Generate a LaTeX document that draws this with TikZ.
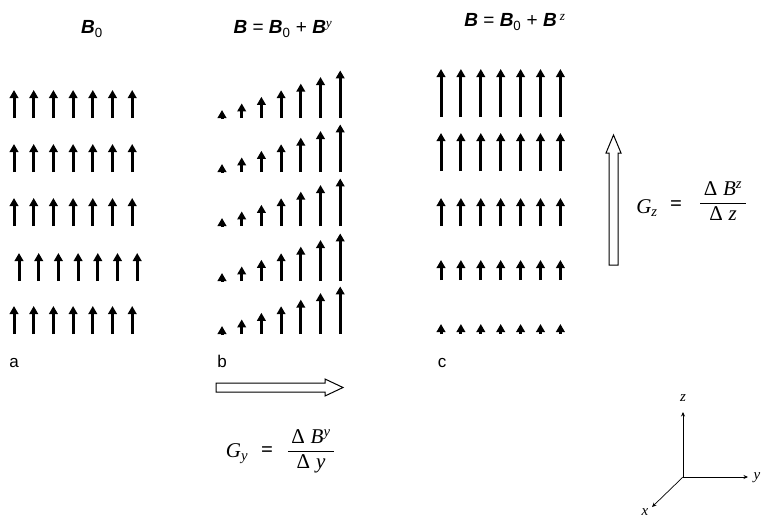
\documentclass[tikz,border=0pt]{standalone}
\usepackage{fontspec}
\setmainfont{Liberation Serif}
\setsansfont{Liberation Sans}
\usetikzlibrary{positioning}
\usetikzlibrary{arrows.meta}

\newcommand{\Bv}{{\bfseries\itshape B}}

\tikzset{
  field/.style={line width=3pt, -{Triangle[width=8.5pt,length=8pt]}},
  hollow/.style={draw, line width=1pt, fill=white},
  axis/.style={line width=0.7pt, -{Stealth[length=4.5pt,width=4pt]}},
  title/.style={anchor=base, font=\fontsize{19}{22}\selectfont\sffamily},
  panel/.style={anchor=base, font=\fontsize{17}{20}\selectfont\sffamily},
  formula/.style={font=\fontsize{21}{24}\selectfont},
  axlabel/.style={font=\fontsize{15}{17}\selectfont\itshape},
}

\begin{document}
\begin{tikzpicture}[x=1pt,y=-1pt]

\useasboundingbox (0,0) rectangle (763,522);

% Titles
\node[title] (t0) at (92,34) {\Bv\textsubscript{0}};
\node[title] (ty) at (283,34) {\Bv{} = \Bv\textsubscript{0} + \Bv\textsuperscript{\rmfamily\mdseries\itshape y}};
\node[title] (tz) at (515,27) {\Bv{} = \Bv\textsubscript{0} + \Bv\,\textsuperscript{\rmfamily\mdseries\itshape z}};

% Uniform field
\foreach \b/\dx in {118/0,172/0,226/0,281/5,334/0}{
  \foreach \i in {0,...,6}{
    \draw[field] ({14+\dx+19.7*\i},\b) -- ++(0,-28);
  }
}

% Field growing along y
\foreach \b in {118,172,226,281,334}{
  \foreach \i in {0,...,6}{
    \draw[field] ({222+19.7*\i},\b) -- ++(0,{-(8+6.6*\i)});
  }
}

% Field growing along z
\foreach \b/\h in {117/48,171/38,226/28,280/20,334/10}{
  \foreach \i in {0,...,6}{
    \draw[field] ({441+19.9*\i},\b) -- ++(0,-\h);
  }
}

% Panel labels
\node[panel] (la) at (14,367) {a};
\node[panel] (lb) at (222,367) {b};
\node[panel] (lc) at (442,367) {c};

% Gradient arrows
\draw[hollow] (216,383) -- (325,383) -- (325,379) -- (343,387.5) -- (325,396)
  -- (325,392) -- (216,392) -- cycle;
\draw[hollow] (609,265) -- (609,153) -- (606,153) -- (613.5,135) -- (621,153)
  -- (618,153) -- (618,265) -- cycle;

% Gradient formulas
\node[formula] (gy) at (237,454) {\textit{G}\textsubscript{\itshape y}};
\node[formula] (gyeq) at (267,452) {\textbf{=}};
\node[formula] (gyfrac) at (311,451) {\begin{tabular}{@{\,}c@{\,}}Δ\;\textit{B}\textsuperscript{\itshape y}\\ \hline Δ\;\textit{y}\end{tabular}};

\node[formula] (gz) at (647,208) {\textit{G}\textsubscript{\itshape z}};
\node[formula] (gzeq) at (676,206) {\textbf{=}};
\node[formula] (gzfrac) at (723,203) {\begin{tabular}{@{\,}c@{\,}}Δ\;\textit{B}\textsuperscript{\itshape z}\\ \hline Δ\;\textit{z}\end{tabular}};

% Axes
\coordinate (O) at (683,477);
\coordinate (zE) at (683,412);
\coordinate (yE) at (748,477);
\coordinate (xE) at (652,507);
\draw[axis] (O) -- (zE);
\draw[axis] (O) -- (yE);
\draw[axis] (O) -- (xE);
\node[axlabel] (zl) at (683,398) {z};
\node[axlabel] (yl) at (757,478) {y};
\node[axlabel] (xl) at (645,512) {x};

\end{tikzpicture}
\end{document}
